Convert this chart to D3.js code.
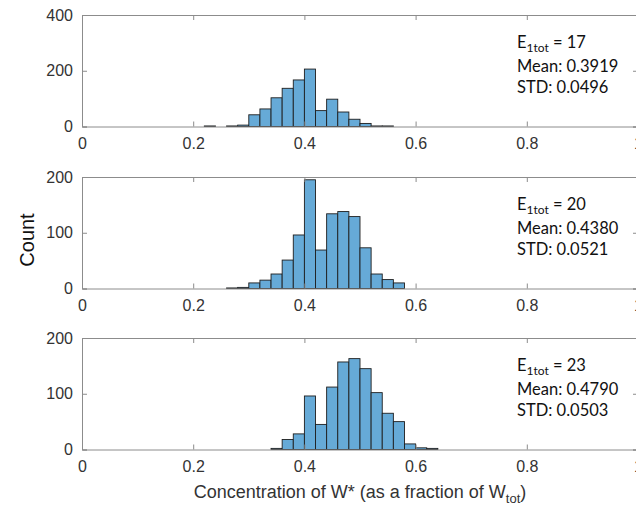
<!DOCTYPE html>
<html>
<head>
<meta charset="utf-8">
<script src="https://cdn.jsdelivr.net/npm/d3@7"></script>
<style>
  body { margin: 0; background: #fff; }
  svg { display: block; }
</style>
</head>
<body>
<div id="canvas"></div>
<script>
// bin left edges (width 0.02)
const binLeft = [0.22, 0.24, 0.26, 0.28, 0.30, 0.32, 0.34, 0.36, 0.38, 0.40, 0.42,
                 0.44, 0.46, 0.48, 0.50, 0.52, 0.54, 0.56, 0.58, 0.60, 0.62];
const binWidth = 0.02;

const counts17 = [2, 0, 2, 5, 42, 63, 103, 137, 167, 206, 57, 98, 52, 26, 11, 2, 2, 0, 0, 0, 0];
const counts20 = [0, 0, 1, 2, 10, 15, 26, 51, 96, 195, 69, 134, 138, 129, 73, 26, 16, 10, 0, 0, 0];
const counts23 = [0, 0, 0, 0, 0, 0, 2, 18, 28, 96, 45, 112, 157, 163, 145, 102, 65, 50, 10, 3, 2];

const e1tot = [17, 20, 23];
const means = ["0.3919", "0.4380", "0.4790"];
const stds = ["0.0496", "0.0521", "0.0503"];

const xTicks = [0, 0.2, 0.4, 0.6, 0.8, 1];
const yTicks = [[0, 200, 400], [0, 100, 200], [0, 100, 200]];
const yMax = [400, 200, 200];

const allCounts = [counts17, counts20, counts23];

const width = 636, height = 510;
const svg = d3.select("#canvas").append("svg")
  .attr("width", width).attr("height", height);

const left = 82, right = 638;
const tops = [15, 177, 338];
const ph = 111.5;

const x = d3.scaleLinear().domain([0, 1]).range([left, right]);

const axisColor = "#8c8c8c";
const labelColor = "#333";
const tickFont = "'Liberation Sans', Arial, sans-serif";

allCounts.forEach((counts, i) => {
  const top = tops[i];
  const y = d3.scaleLinear().domain([0, yMax[i]]).range([top + ph, top]);
  const g = svg.append("g");

  // bars
  g.selectAll("rect.bar")
    .data(binLeft.map((b, k) => ({ b: b, c: counts[k] })).filter(d => d.c > 0))
    .enter().append("rect")
    .attr("class", "bar")
    .attr("x", d => x(d.b))
    .attr("y", d => y(d.c))
    .attr("width", d => x(d.b + binWidth) - x(d.b))
    .attr("height", d => y(0) - y(d.c))
    .style("fill", "#66aad7")
    .style("stroke", "#1e1e1e")
    .style("stroke-width", 0.9);

  // axes
  const bottom = g.append("g")
    .attr("transform", `translate(0,${y(0)})`)
    .call(d3.axisBottom(x).tickValues(xTicks).tickSize(-5).tickPadding(11).tickFormat(d => String(d)));
  const topAx = g.append("g")
    .attr("transform", `translate(0,${top})`)
    .call(d3.axisTop(x).tickValues(xTicks).tickSize(-5).tickFormat(""));
  const leftAx = g.append("g")
    .attr("transform", `translate(${left},0)`)
    .call(d3.axisLeft(y).tickValues(yTicks[i]).tickSize(-5).tickPadding(9).tickFormat(d => String(d)));
  const rightAx = g.append("g")
    .attr("transform", `translate(${right},0)`)
    .call(d3.axisRight(y).tickValues(yTicks[i]).tickSize(-5).tickFormat(""));

  [bottom, topAx, leftAx, rightAx].forEach(a => {
    a.select(".domain").attr("stroke", axisColor);
    a.selectAll(".tick line").attr("stroke", axisColor);
    a.selectAll(".tick text")
      .attr("fill", labelColor)
      .style("font-family", tickFont)
      .style("font-size", "16px");
  });

  // annotation
  const tx = 517, ty = top + 33;
  const ann = g.append("text")
    .attr("x", tx).attr("y", ty)
    .style("font-family", "Lato, 'Open Sans', sans-serif")
    .style("font-size", "16.5px")
    .attr("fill", "#111");
  ann.append("tspan").text("E");
  ann.append("tspan").attr("dy", 4).style("font-size", "12px").text("1tot");
  ann.append("tspan").attr("dy", -4).text(" = " + e1tot[i]);

  g.append("text")
    .attr("x", tx).attr("y", ty + 24)
    .style("font-family", "Lato, 'Open Sans', sans-serif")
    .style("font-size", "16.5px")
    .attr("fill", "#111")
    .text("Mean: " + means[i]);

  g.append("text")
    .attr("x", tx).attr("y", ty + 45)
    .style("font-family", "Lato, 'Open Sans', sans-serif")
    .style("font-size", "16.5px")
    .attr("fill", "#111")
    .text("STD: " + stds[i]);
});

// y label
svg.append("text")
  .attr("transform", "translate(34,240) rotate(-90)")
  .attr("text-anchor", "middle")
  .style("font-family", tickFont)
  .style("font-size", "20px")
  .attr("fill", "#111")
  .text("Count");

// x label
const xl = svg.append("text")
  .attr("x", 360).attr("y", 498)
  .attr("text-anchor", "middle")
  .style("font-family", tickFont)
  .style("font-size", "18px")
  .attr("fill", labelColor);
xl.append("tspan").text("Concentration of W* (as a fraction of W");
xl.append("tspan").attr("dy", 5).style("font-size", "13px").text("tot");
xl.append("tspan").attr("dy", -5).text(")");
</script>
</body>
</html>
